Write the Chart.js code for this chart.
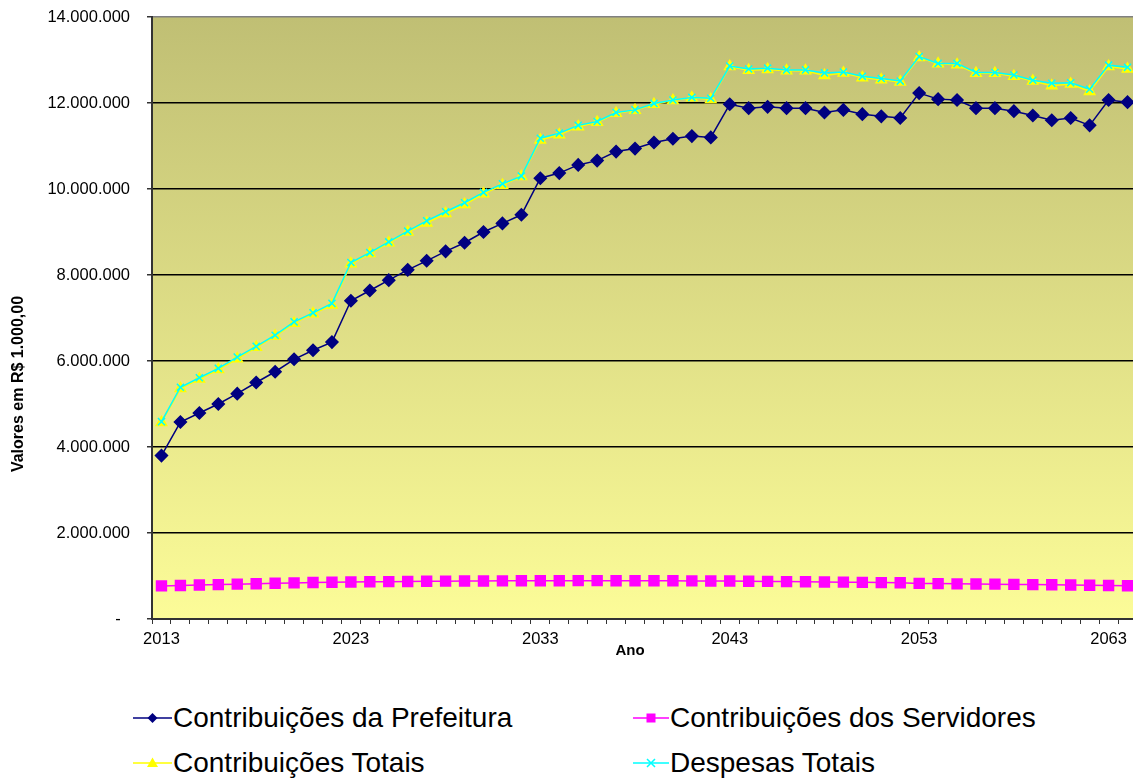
<!DOCTYPE html>
<html lang="pt">
<head>
  <meta charset="UTF-8" />
  <title>Contribuições e Despesas</title>
  <script src="https://cdn.jsdelivr.net/npm/chart.js"></script>
  <style>
    html, body { margin: 0; padding: 0; background: #fff; overflow: hidden; }
    body { width: 1133px; height: 782px; position: relative; font-family: "Liberation Sans", Arial, sans-serif; }
    #wrap { position: absolute; left: 0; top: 0; width: 1145px; height: 690px; }
    .leg { position: absolute; display: flex; align-items: center; font-size: 28px; color: #000; white-space: nowrap; }
    .leg svg { margin-right: 1px; }
  </style>
</head>
<body>
  <div id="wrap"><canvas id="chart"></canvas></div>
  <div class="leg" style="left:133px; top:701px;">
    <svg width="39" height="34"><line x1="0" y1="17" x2="39" y2="17" stroke="#000080" stroke-width="1.5"/><polygon points="19.5,12 24.5,17 19.5,22 14.5,17" fill="#000080"/></svg>Contribuições da Prefeitura
  </div>
  <div class="leg" style="left:633px; top:701px;">
    <svg width="36" height="34"><line x1="0" y1="17" x2="36" y2="17" stroke="#ff00ff" stroke-width="1.5"/><rect x="13.5" y="12.5" width="9" height="9" fill="#ff00ff"/></svg>Contribuições dos Servidores
  </div>
  <div class="leg" style="left:133px; top:746px;">
    <svg width="39" height="34"><line x1="0" y1="17" x2="39" y2="17" stroke="#ffff00" stroke-width="1.5"/><polygon points="19.5,11.5 25,21 14,21" fill="#ffff00"/></svg>Contribuições Totais
  </div>
  <div class="leg" style="left:633px; top:746px;">
    <svg width="36" height="34"><line x1="0" y1="17" x2="36" y2="17" stroke="#00ffff" stroke-width="1.5"/><path d="M14 13 L22 21 M22 13 L14 21" stroke="#00ffff" stroke-width="1.5"/></svg>Despesas Totais
  </div>
  <script>
    const anos = ['2013','2014','2015','2016','2017','2018','2019','2020','2021','2022',
      '2023','2024','2025','2026','2027','2028','2029','2030','2031','2032',
      '2033','2034','2035','2036','2037','2038','2039','2040','2041','2042',
      '2043','2044','2045','2046','2047','2048','2049','2050','2051','2052',
      '2053','2054','2055','2056','2057','2058','2059','2060','2061','2062',
      '2063','2064'];

    const prefeitura = [3800000, 4580000, 4790000, 5000000, 5240000, 5500000, 5750000, 6040000, 6250000, 6440000,
      7400000, 7640000, 7880000, 8120000, 8330000, 8550000, 8750000, 9000000, 9200000, 9400000,
      10250000, 10370000, 10560000, 10660000, 10870000, 10940000, 11080000, 11170000, 11230000, 11200000,
      11970000, 11880000, 11910000, 11880000, 11880000, 11780000, 11840000, 11740000, 11690000, 11650000,
      12230000, 12090000, 12070000, 11880000, 11880000, 11810000, 11710000, 11600000, 11650000, 11480000,
      12070000, 12020000];

    const servidores = [770000, 780000, 790000, 800000, 810000, 820000, 830000, 840000, 848000, 855000,
      860000, 865000, 869000, 873000, 877000, 880000, 883000, 885000, 887000, 889000,
      890000, 891000, 892000, 892000, 891000, 890000, 889000, 888000, 886000, 884000,
      882000, 878000, 874000, 870000, 866000, 862000, 857000, 852000, 847000, 842000,
      828000, 823000, 818000, 814000, 810000, 805000, 800000, 795000, 790000, 785000,
      778000, 772000];

    const totais = [4570000, 5360000, 5580000, 5800000, 6050000, 6320000, 6580000, 6880000, 7100000, 7300000,
      8260000, 8500000, 8750000, 9000000, 9210000, 9430000, 9640000, 9890000, 10090000, 10290000,
      11140000, 11260000, 11450000, 11550000, 11760000, 11830000, 11970000, 12060000, 12120000, 12080000,
      12850000, 12760000, 12780000, 12750000, 12750000, 12640000, 12700000, 12590000, 12540000, 12490000,
      13060000, 12910000, 12890000, 12690000, 12690000, 12620000, 12510000, 12400000, 12440000, 12270000,
      12850000, 12790000];

    const despesas = [4590000, 5390000, 5610000, 5830000, 6090000, 6340000, 6600000, 6910000, 7120000, 7340000,
      8290000, 8520000, 8770000, 9020000, 9260000, 9470000, 9680000, 9920000, 10120000, 10300000,
      11180000, 11300000, 11480000, 11570000, 11780000, 11840000, 11990000, 12070000, 12130000, 12110000,
      12860000, 12790000, 12810000, 12770000, 12770000, 12700000, 12720000, 12620000, 12570000, 12510000,
      13080000, 12920000, 12920000, 12710000, 12710000, 12650000, 12530000, 12460000, 12470000, 12320000,
      12880000, 12830000];

    const FONT = '"Liberation Sans", Arial, sans-serif';

    function formatBR(v) {
      if (v === 0) return '-  ';
      return String(Math.round(v)).replace(/\B(?=(\d{3})+(?!\d))/g, '.');
    }

    // gradient fill behind the plot + axis titles placed like the original
    const plotDecor = {
      id: 'plotDecor',
      beforeDraw(chart) {
        const { ctx, chartArea: a } = chart;
        const g = ctx.createLinearGradient(0, a.top, 0, a.bottom);
        g.addColorStop(0, '#c0bf74');
        g.addColorStop(1, '#fcfc98');
        ctx.save();
        ctx.fillStyle = g;
        ctx.fillRect(a.left, a.top, a.right - a.left, a.bottom - a.top);
        ctx.restore();
      },
      afterDraw(chart) {
        const { ctx } = chart;
        ctx.save();
        ctx.fillStyle = '#000';
        ctx.font = 'bold 15px ' + FONT;
        ctx.textAlign = 'center';
        ctx.textBaseline = 'middle';
        ctx.fillText('Ano', 630, 651);
        ctx.font = 'bold 16px ' + FONT;
        ctx.translate(19, 384);
        ctx.rotate(-Math.PI / 2);
        ctx.fillText('Valores em R$ 1.000,00', 0, 0);
        ctx.restore();
      }
    };

    new Chart(document.getElementById('chart'), {
      type: 'line',
      data: {
        labels: anos,
        datasets: [
          {
            label: 'Contribuições da Prefeitura',
            data: prefeitura,
            borderColor: '#000080',
            backgroundColor: '#000080',
            borderWidth: 1.5,
            pointStyle: 'rectRot',
            pointRadius: 6,
            order: 3
          },
          {
            label: 'Contribuições dos Servidores',
            data: servidores,
            borderColor: '#ff00ff',
            backgroundColor: '#ff00ff',
            borderWidth: 1.5,
            pointStyle: 'rect',
            pointRadius: 7,
            order: 2
          },
          {
            label: 'Contribuições Totais',
            data: totais,
            borderColor: '#ffff00',
            backgroundColor: '#ffff00',
            borderWidth: 1.5,
            pointStyle: 'triangle',
            pointRadius: 6,
            order: 1
          },
          {
            label: 'Despesas Totais',
            data: despesas,
            borderColor: '#00ffff',
            backgroundColor: '#00ffff',
            borderWidth: 1.5,
            pointStyle: 'crossRot',
            pointRadius: 5,
            pointBorderWidth: 1.5,
            order: 0
          }
        ]
      },
      options: {
        responsive: true,
        maintainAspectRatio: false,
        animation: false,
        layout: { autoPadding: false, padding: { top: 17, right: 8, bottom: 31, left: 0 } },
        plugins: {
          legend: { display: false },
          tooltip: { enabled: false }
        },
        scales: {
          x: {
            offset: true,
            grid: { display: true, offset: true, drawOnChartArea: false, tickLength: 5, tickColor: '#333' },
            border: { color: '#333', width: 2 },
            ticks: {
              autoSkip: false,
              maxRotation: 0,
              padding: 6,
              color: '#000',
              font: { family: FONT, size: 16.5 },
              callback: (val, i) => (i % 10 === 0 ? anos[i] : '')
            },
            afterFit: s => { s.height = 40; s.paddingLeft = 0; s.paddingRight = 0; }
          },
          y: {
            min: 0,
            max: 14000000,
            ticks: {
              stepSize: 2000000,
              padding: 17,
              color: '#000',
              font: { family: FONT, size: 16.5 },
              callback: v => formatBR(v)
            },
            grid: {
              tickLength: 5,
              tickColor: '#333',
              lineWidth: 1.5,
              color: c => (c.tick.value === 0 ? 'rgba(0,0,0,0)' : (c.tick.value === 14000000 ? '#808080' : '#000'))
            },
            border: { color: '#333', width: 2 },
            afterFit: s => { s.width = 152; s.paddingTop = 0; s.paddingBottom = 0; }
          }
        }
      },
      plugins: [plotDecor]
    });
  </script>
</body>
</html>
